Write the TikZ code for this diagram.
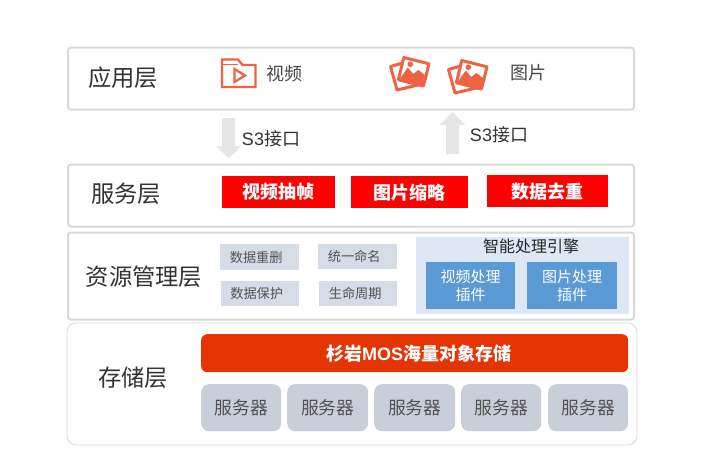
\documentclass[tikz,border=0pt]{standalone}
\usepackage{fontspec}
\setmainfont{Noto Sans CJK SC}
\newfontfamily\lat{Liberation Sans}
\definecolor{layerline}{HTML}{D9D9D9}
\definecolor{icon}{HTML}{EE6344}
\definecolor{txt}{HTML}{333333}
\definecolor{chip}{HTML}{D6DCE5}
\definecolor{engine}{HTML}{DEE8F4}
\definecolor{plugin}{HTML}{5B9BD5}
\definecolor{srv}{HTML}{C9CFD9}
\definecolor{mos}{HTML}{E63504}
\definecolor{arrowc}{HTML}{E6E6E6}
\tikzset{
 layer/.style={draw=layerline,line width=2pt,rounded corners=3pt,fill=white},
 layerlabel/.style={font=\fontsize{23.3}{25}\selectfont,text=txt,inner sep=0},
 redbox/.style={fill=red,text=white,font=\bfseries\fontsize{18}{20}\selectfont,inner sep=0,anchor=north west},
 chipbox/.style={fill=chip,text=txt!85,font=\fontsize{13.2}{15}\selectfont,inner sep=0,anchor=north west},
 pluginbox/.style={fill=plugin,text=white,font=\fontsize{15}{18}\selectfont,inner sep=0,anchor=north west,align=center},
 srvbox/.style={fill=srv,rounded corners=8pt,text=txt!85,font=\fontsize{17.8}{20}\selectfont,inner sep=0,anchor=north west,minimum width=80pt,minimum height=47pt},
 iflabel/.style={font=\fontsize{18}{20}\selectfont,text=txt,inner sep=0},
 toplabel/.style={font=\fontsize{18}{20}\selectfont,text=txt!90,inner sep=0},
 blockarrow/.style={fill=arrowc,draw=none},
}
\newcommand{\picicon}[2]{%
 \begin{scope}[shift={(#1,#2)}]
  \draw[icon,line width=3pt,line join=round,fill=white] (1.5,10.5) -- (24,4) -- (31,28.5) -- (8,34) -- cycle;
  \draw[icon,line width=3pt,line join=round,fill=white] (14.8,1.5) -- (40,7.8) -- (34.4,30) -- (9.4,23.8) -- cycle;
  \fill[icon] (10,24) -- (18.7,11.5) -- (24.3,18) -- (29.3,14) -- (38.5,21) -- (34.5,30) -- cycle;
  \fill[icon] (21.3,8.2) circle (2.8);
 \end{scope}}
\begin{document}
\begin{tikzpicture}[x=1pt,y=-1pt]
\useasboundingbox (0,0) rectangle (704,466);
\fill[white] (0,0) rectangle (704,466);
% layers
\node[layer,minimum width=566pt,minimum height=62pt,inner sep=0,anchor=north west] (app) at (67,46.5) {};
\node[layer,minimum width=566pt,minimum height=62pt,inner sep=0,anchor=north west] (svc) at (67,163.5) {};
\node[layer,minimum width=566pt,minimum height=87pt,inner sep=0,anchor=north west] (res) at (67,231.5) {};
\node[draw=layerline,line width=.8pt,rounded corners=9pt,fill=white,minimum width=570pt,minimum height=122pt,inner sep=0,anchor=north west] (sto) at (66.5,322.5) {};
\node[layerlabel] (l1) at (123,78) {应用层};
\node[layerlabel] (l2) at (126,194) {服务层};
\node[layerlabel] (l3) at (144,277) {资源管理层};
\node[layerlabel] (l4) at (133,378) {存储层};
% video icon
\draw[icon,line width=2.3pt,line join=miter] (222,87) -- (222,59.5) -- (238,59.5) -- (242.5,65) -- (255.5,65) -- (255.5,87) -- cycle;
\draw[icon,line width=1.2pt] (222,64.5) -- (238,64.5);
\draw[icon,line width=2.3pt,line join=miter] (234.5,69) -- (245,75.5) -- (234.5,82) -- cycle;
\node[toplabel] (t1) at (284,74) {视频};
\picicon{389}{56}
\picicon{447}{59}
\node[toplabel] (t2) at (528,73) {图片};
% arrows
\fill[blockarrow] (222,118) -- (235,118) -- (235,146) -- (242,146) -- (228.5,158) -- (216,146) -- (222,146) -- cycle;
\fill[blockarrow] (446,154) -- (459,154) -- (459,125) -- (465,125) -- (452.5,112) -- (440,125) -- (446,125) -- cycle;
\node[iflabel] (s1) at (271,139) {{\lat S3}接口};
\node[iflabel] (s2) at (499,135) {{\lat S3}接口};
% service
\node[redbox,minimum width=113pt,minimum height=32pt] (r1) at (222,176) {视频抽帧};
\node[redbox,minimum width=117pt,minimum height=32pt] (r2) at (351,176) {图片缩略};
\node[redbox,minimum width=121pt,minimum height=32pt] (r3) at (487,175) {数据去重};
% resources
\node[chipbox,minimum width=79pt,minimum height=26pt] (c1) at (220,244) {\hspace*{-7pt}数据重删};
\node[chipbox,minimum width=79pt,minimum height=25pt] (c2) at (318,244) {\hspace*{-7pt}统一命名};
\node[chipbox,minimum width=78pt,minimum height=25pt] (c3) at (221,281) {\hspace*{-7pt}数据保护};
\node[chipbox,minimum width=78pt,minimum height=25pt] (c4) at (319,281) {\hspace*{-6pt}生命周期};
\fill[engine] (416,237) rectangle (629,314);
\node[font=\fontsize{16}{18}\selectfont,text=black!85,inner sep=0] (e) at (531,246.5) {智能处理引擎};
\node[pluginbox,minimum width=89pt,minimum height=47pt] (p1) at (426,262) {视频处理\\插件};
\node[pluginbox,minimum width=90pt,minimum height=47pt] (p2) at (527,262) {图片处理\\插件};
% storage
\node[fill=mos,rounded corners=6pt,text=white,font=\bfseries\fontsize{18}{20}\selectfont,inner sep=0,anchor=north west,minimum width=427pt,minimum height=38pt] (m) at (201,334) {\hspace*{8pt}杉岩{\lat\bfseries MOS}海量对象存储};
\node[srvbox] (b1) at (201,384) {服务器};
\node[srvbox,minimum width=81pt] (b2) at (287,384) {服务器};
\node[srvbox,minimum width=81pt] (b3) at (374,384) {服务器};
\node[srvbox] (b4) at (461,384) {服务器};
\node[srvbox] (b5) at (548,384) {服务器};
\end{tikzpicture}
\end{document}
